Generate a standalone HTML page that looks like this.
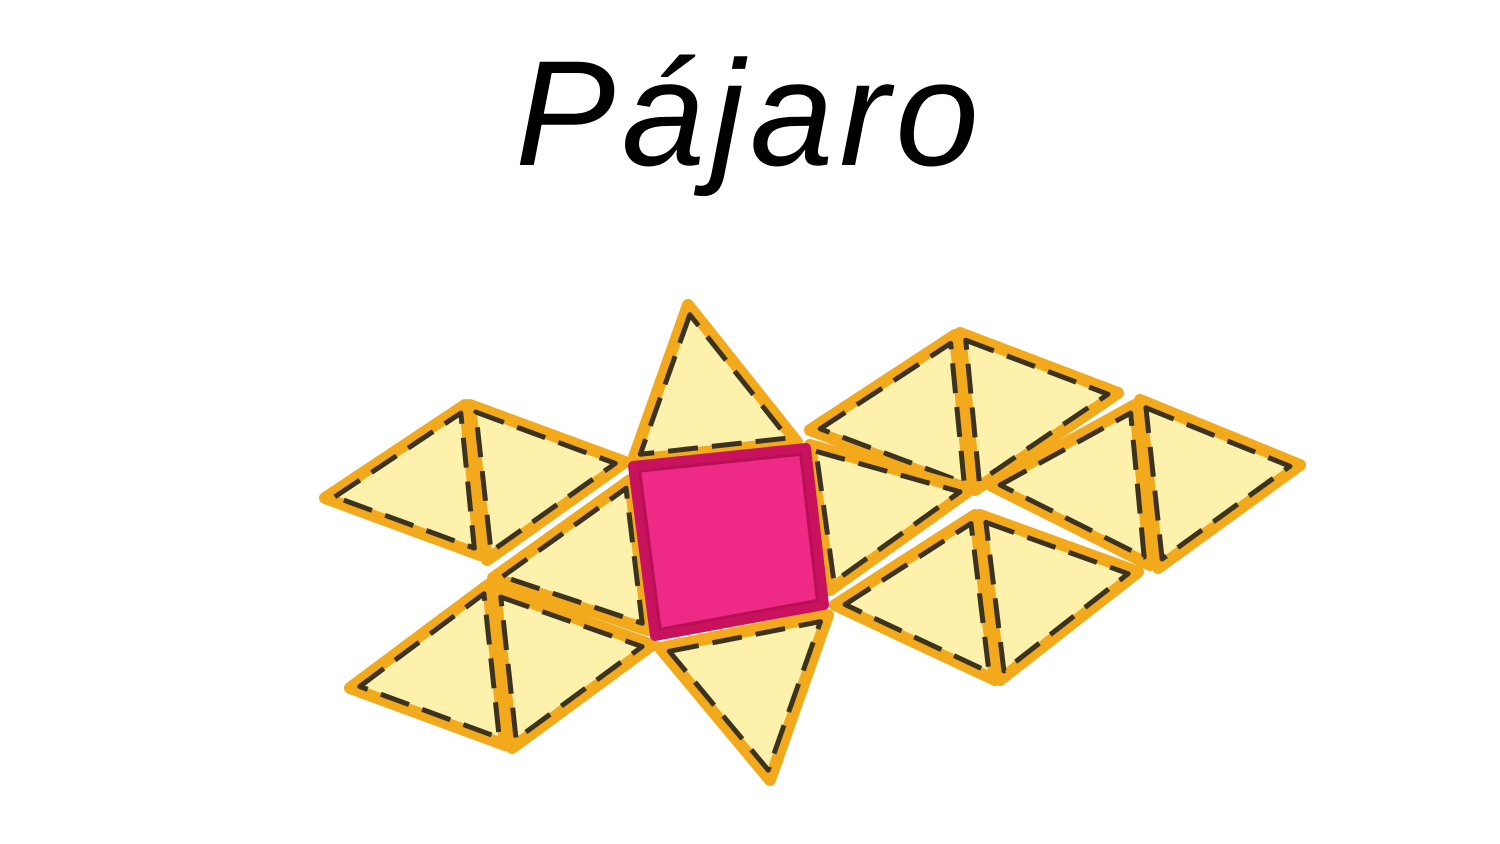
<!DOCTYPE html>
<html><head><meta charset="utf-8"><style>
html,body{margin:0;padding:0;background:#fff;width:1500px;height:844px;overflow:hidden}
svg{display:block}
</style></head><body>
<svg width="1500" height="844" viewBox="0 0 1500 844">
<text x="750" y="165" text-anchor="middle" font-family="'Liberation Sans',sans-serif" font-style="italic" font-size="150" letter-spacing="6" fill="#000">Pájaro</text>
<g id="tiles"></g>
</svg>
<script>
const triangles = [
 [[688,305],[633,460],[797,442]],
 [[325,498],[465,405],[480,555]],
 [[470,405],[625,462],[487,560]],
 [[493,578],[630,480],[648,630]],
 [[350,688],[488,585],[505,745]],
 [[495,590],[652,645],[512,748]],
 [[660,648],[828,615],[770,780]],
 [[810,430],[955,335],[970,490]],
 [[960,333],[1118,393],[975,490]],
 [[810,445],[970,490],[830,590]],
 [[990,485],[1135,405],[1150,565]],
 [[1140,400],[1300,465],[1158,568]],
 [[835,605],[975,515],[995,680]],
 [[980,515],[1138,572],[1000,680]]
];
const square = [[633,466],[806,448],[824,605],[655,636]];
const g = document.getElementById('tiles');
const NS = 'http://www.w3.org/2000/svg';
function poly(pts, fill, stroke, sw, dash){
  const p = document.createElementNS(NS,'polygon');
  p.setAttribute('points', pts.map(q=>q.join(',')).join(' '));
  p.setAttribute('fill', fill);
  p.setAttribute('stroke', stroke);
  p.setAttribute('stroke-width', sw);
  p.setAttribute('stroke-linejoin','round');
  if(dash) p.setAttribute('stroke-dasharray', dash);
  g.appendChild(p);
  return p;
}
function inset(pts, k){
  const cx=pts.reduce((s,q)=>s+q[0],0)/pts.length, cy=pts.reduce((s,q)=>s+q[1],0)/pts.length;
  return pts.map(q=>[cx+(q[0]-cx)*k, cy+(q[1]-cy)*k]);
}
triangles.forEach((t,i)=>{
  const p = poly(t,'#fdf1ac','#f2a91c',12);
  
  
  const d = poly(inset(t,0.9),'none','#3b3320',5,'30 14');
  
  
});
const s = poly(square,'#ea1a78','#c8125e',10);


const s2 = poly(inset(square,0.93),'#ee2a86','#b80f57',3);


</script>
</body></html>
